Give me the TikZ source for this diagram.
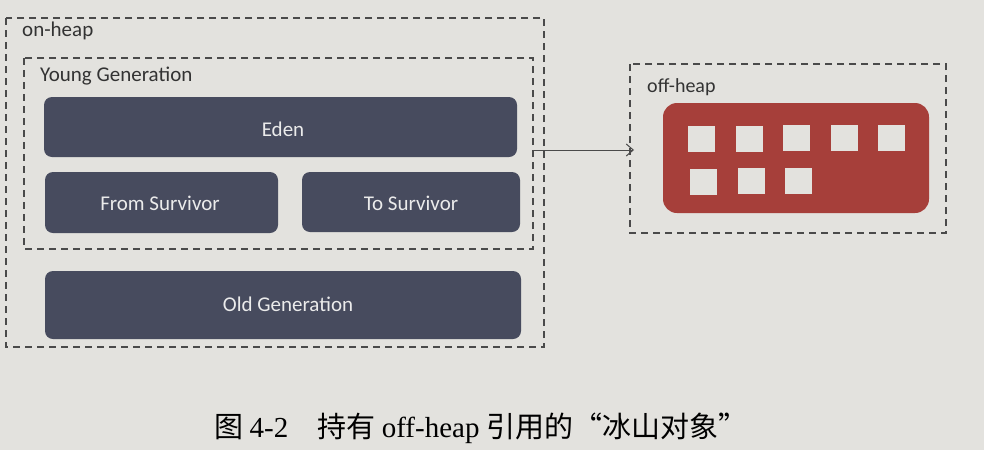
\documentclass[tikz,border=0pt]{standalone}
\usepackage{fontspec}
\setmainfont{Carlito}
\newfontfamily\capfont{Liberation Serif}
\newfontfamily\cjk{Noto Sans CJK SC}
\usetikzlibrary{arrows.meta}
\definecolor{bg}{HTML}{E3E2DE}
\definecolor{slate}{HTML}{474B5E}
\definecolor{brick}{HTML}{A63F3A}
\definecolor{line}{HTML}{4A4A4A}
\tikzset{
  region/.style={draw=line, line width=1.3pt, dash pattern=on 7pt off 5pt},
  boxtext/.style={text=white!92!black, font=\fontsize{21}{24}\selectfont},
  genbox/.style={fill=slate, rounded corners=8pt},
  cell/.style={fill=bg, minimum width=27pt, minimum height=26pt, inner sep=0pt},
  lbl/.style={anchor=west, text=black!80, font=\fontsize{21}{24}\selectfont, inner sep=0pt}
}
\begin{document}
\begin{tikzpicture}[x=1pt,y=-1pt]
\fill[bg] (0,0) rectangle (984,450);
\useasboundingbox (0,0) rectangle (984,450);
% regions
\draw[region] (6,18) rectangle (544,347);
\node[lbl] (onlbl) at (22,31) {on-heap};
\draw[region] (24,58) rectangle (533,249);
\coordinate (yright) at (533,150);
\node[lbl] (younglbl) at (40,76) {Young Generation};
\draw[region] (630,64) rectangle (946,233);
\coordinate (offleft) at (634,150);
\node[lbl, font=\fontsize{20}{22}\selectfont] (offlbl) at (647,87) {off-heap};
% generation boxes
\path[genbox] (44,97) rectangle (517,157);
\node[boxtext] (eden) at (283,129) {Eden};
\path[genbox] (45,172) rectangle (278,233);
\node[boxtext] (from) at (160,203) {From Survivor};
\path[genbox] (302,172) rectangle (520,232);
\node[boxtext] (to) at (411,203) {To Survivor};
\path[genbox] (45,271) rectangle (521,339);
\node[boxtext] (old) at (288,304) {Old Generation};
% off-heap block
\path[fill=brick, rounded corners=14pt] (663,103) rectangle (929,213);
\node[cell] (c1) at (701,139) {};
\node[cell] (c2) at (749,139) {};
\node[cell] (c3) at (796,138) {};
\node[cell] (c4) at (844,138) {};
\node[cell] (c5) at (891,138) {};
\node[cell] (c6) at (703,182) {};
\node[cell] (c7) at (751,181) {};
\node[cell] (c8) at (798,181) {};
% arrow
\draw[line, line width=1pt, -{Straight Barb[length=7pt,width=12pt]}] (yright) -- (offleft);
% caption
\node (cap) at (481,428) {\fontsize{29}{32}\selectfont\cjk 图\ \capfont 4-2\quad\cjk 持有\ \capfont off-heap\ \cjk 引用的“冰山对象”};
\end{tikzpicture}
\end{document}
